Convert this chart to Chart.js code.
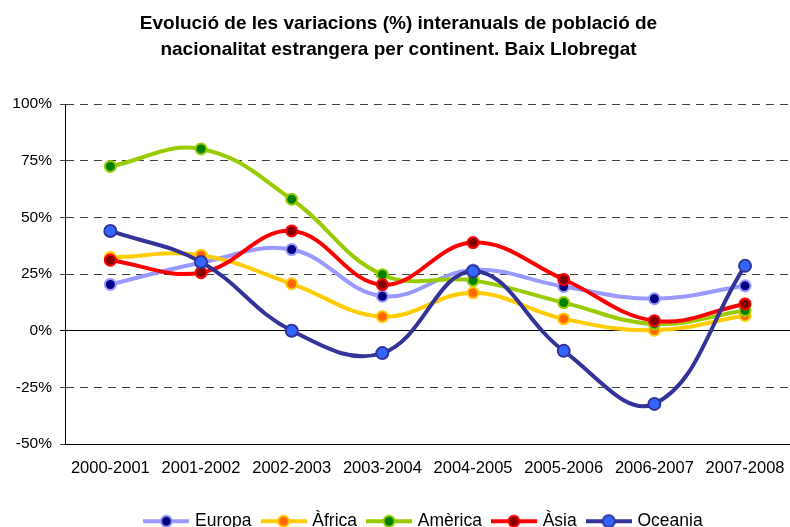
<!DOCTYPE html>
<html>
<head>
<meta charset="utf-8">
<script src="https://cdn.jsdelivr.net/npm/chart.js@4/dist/chart.umd.min.js"></script>
<style>
  html, body { margin: 0; padding: 0; background: #fff; overflow: hidden; }
  #wrap { width: 790px; height: 527px; overflow: hidden; }
  #box { width: 800px; height: 540px; }
</style>
</head>
<body>
<div id="wrap"><div id="box"><canvas id="chart"></canvas></div></div>
<script>
// Periods (x axis)
const periods = ['2000-2001', '2001-2002', '2002-2003', '2003-2004',
                 '2004-2005', '2005-2006', '2006-2007', '2007-2008'];

// Year-on-year variation (%) per continent
const europa   = [20.4, 30.0, 35.8, 15.2, 26.8, 19.5, 14.1, 19.8];
const africa   = [32.3, 33.3, 20.7, 6.2, 16.7, 5.2, 0.2, 6.7];
const america  = [72.5, 80.2, 58.0, 24.7, 22.2, 12.4, 3.0, 8.9];
const asia     = [31.1, 25.6, 44.0, 20.3, 38.9, 22.6, 4.4, 11.8];
const oceania  = [44.0, 30.3, 0.0, -9.9, 26.2, -8.9, -32.3, 28.6];

// y axis ticks
const yTicks = [-50, -25, 0, 25, 50, 75, 100];

const FONT = 'Arial, "Liberation Sans", sans-serif';

// line colour, marker colour, marker radius, draw order
const styles = [
  { label: 'Europa',  data: europa,  line: '#9999FF', dot: '#000080', r: 5.5, order: 5 },
  { label: 'Àfrica',  data: africa,  line: '#FFCC00', dot: '#FF6600', r: 5.5, order: 4 },
  { label: 'Amèrica', data: america, line: '#99CC00', dot: '#008000', r: 5.5, order: 3 },
  { label: 'Àsia',    data: asia,    line: '#FF0000', dot: '#800000', r: 5.5, order: 2 },
  { label: 'Oceania', data: oceania, line: '#333399', dot: '#3366FF', r: 6, order: 1 }
];

// little line+marker pictures for the legend
function legendIcon(s) {
  const c = document.createElement('canvas');
  c.width = 46; c.height = 16;
  const g = c.getContext('2d');
  g.strokeStyle = s.line;
  g.lineWidth = 4;
  g.beginPath(); g.moveTo(0, 8); g.lineTo(46, 8); g.stroke();
  g.beginPath(); g.arc(23, 8, s.r, 0, Math.PI * 2);
  g.fillStyle = s.dot; g.fill();
  g.lineWidth = 2; g.stroke();
  return c;
}
const icons = styles.map(legendIcon);

const datasets = styles.map(s => ({
  label: s.label,
  data: s.data,
  borderColor: s.line,
  backgroundColor: s.line,
  borderWidth: 4,
  pointRadius: s.r,
  pointBackgroundColor: s.dot,
  pointBorderColor: s.line,
  pointBorderWidth: 2,
  tension: 0.4,
  fill: false,
  order: s.order
}));

// shift the legend a bit to the right, like the original
const legendShift = {
  id: 'legendShift',
  afterLayout(chart) { chart.legend.left += 52; }
};

new Chart(document.getElementById('chart'), {
  type: 'line',
  data: { labels: periods, datasets: datasets },
  plugins: [legendShift],
  options: {
    responsive: true,
    maintainAspectRatio: false,
    animation: false,
    layout: { padding: { left: 0, right: 3, top: 0, bottom: 0 } },
    plugins: {
      title: {
        display: true,
        text: ['Evolució de les variacions (%) interanuals de població de',
               'nacionalitat estrangera per continent. Baix Llobregat'],
        color: '#000',
        font: { family: FONT, size: 19, weight: 'bold', lineHeight: 1.37 },
        padding: { top: 11, bottom: 41 }
      },
      legend: {
        position: 'bottom',
        labels: {
          color: '#000',
          font: { family: FONT, size: 17.5 },
          usePointStyle: true,
          pointStyleWidth: 40,
          padding: 12,
          generateLabels(chart) {
            const items = Chart.defaults.plugins.legend.labels.generateLabels(chart);
            items.forEach(it => { it.pointStyle = icons[it.datasetIndex]; });
            return items;
          },
          sort: (a, b) => a.datasetIndex - b.datasetIndex
        }
      },
      tooltip: { enabled: false }
    },
    scales: {
      x: {
        offset: true,
        grid: { display: false, offset: true, drawTicks: false },
        border: { display: true, color: '#000', width: 1 },
        ticks: { color: '#000', font: { family: FONT, size: 16.5 }, padding: 15, maxRotation: 0, autoSkip: false },
        afterFit(scale) { scale.height = 56.5; }
      },
      y: {
        min: yTicks[0],
        max: yTicks[yTicks.length - 1],
        afterBuildTicks(scale) { scale.ticks = yTicks.map(v => ({ value: v })); },
        grid: {
          color: ctx => ctx.tick && ctx.tick.value === 0 ? '#000' : '#404040',
          lineWidth: 1,
          drawTicks: true,
          tickLength: 5
        },
        border: {
          display: true,
          color: '#000',
          width: 1,
          dash: ctx => ctx.tick && ctx.tick.value === 0 ? [] : [8, 6]
        },
        ticks: {
          color: '#000',
          font: { family: FONT, size: 15.5 },
          padding: 8,
          callback: v => v + '%'
        },
        afterFit(scale) { scale.width = 65; }
      }
    }
  }
});
</script>
</body>
</html>
